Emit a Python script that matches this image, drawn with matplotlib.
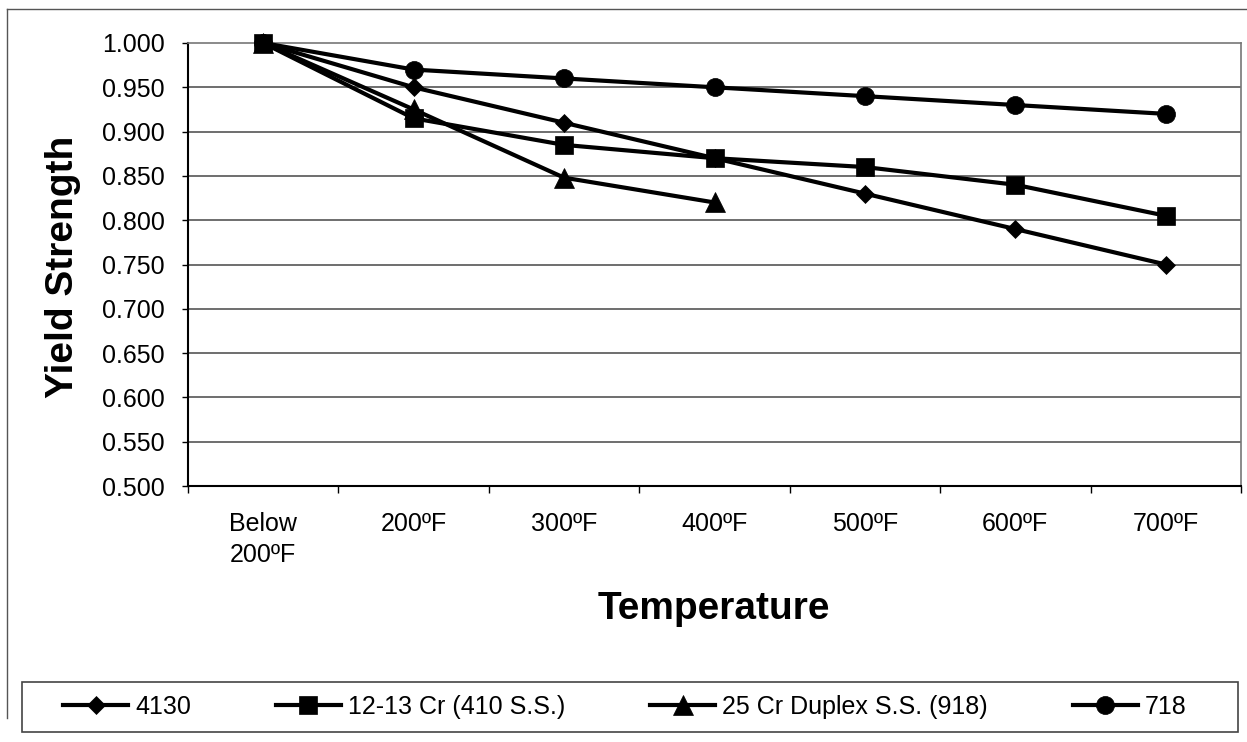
import matplotlib
matplotlib.use("Agg")
import matplotlib.pyplot as plt
from matplotlib.lines import Line2D
from matplotlib.patches import Rectangle
import numpy as np

plt.rcParams['font.family'] = ['Liberation Sans', 'DejaVu Sans']

categories = ["Below\n200ºF", "200ºF", "300ºF", "400ºF", "500ºF", "600ºF", "700ºF"]
s_4130 = [1.000, 0.950, 0.910, 0.870, 0.830, 0.790, 0.750]
s_1213cr = [1.000, 0.915, 0.885, 0.870, 0.860, 0.840, 0.805]
s_25cr = [1.000, 0.925, 0.848, 0.820]
s_718 = [1.000, 0.970, 0.960, 0.950, 0.940, 0.930, 0.920]
series_names = ["4130", "12-13 Cr (410 S.S.)", "25 Cr Duplex S.S. (918)", "718"]
y_ticks = [0.50, 0.55, 0.60, 0.65, 0.70, 0.75, 0.80, 0.85, 0.90, 0.95, 1.00]

W, H = 1247, 742
fig = plt.figure(figsize=(W / 100, H / 100), dpi=100)
fig.patch.set_facecolor('white')

def fx(px):
    return px / W

def fy(py):
    return 1 - py / H

ax_l, ax_r, ax_t, ax_b = 188, 1241, 43, 486
ax = fig.add_axes([fx(ax_l), fy(ax_b), fx(ax_r - ax_l), (ax_b - ax_t) / H])

x_all = np.arange(len(categories))
styles = [
    dict(marker='D', ms=9.5, zorder=3),
    dict(marker='s', ms=13.5, zorder=5),
    dict(marker='^', ms=14, zorder=3),
    dict(marker='o', ms=13, zorder=4),
]
data = [s_4130, s_1213cr, s_25cr, s_718]
handles = []
for name, vals, st in zip(series_names, data, styles):
    xs = x_all[:len(vals)]
    ln, = ax.plot(xs, vals, color='black', lw=3, marker=st['marker'], ms=st['ms'],
                  mec='black', mfc='black', mew=0.5, zorder=st['zorder'], label=name,
                  clip_on=False)
    handles.append(ln)

ax.set_xlim(-0.5, len(categories) - 0.5)
ax.set_ylim(0.5, 1.0)
ax.set_yticks(y_ticks)
ax.set_yticklabels([f"{v:.3f}" for v in y_ticks])
ax.tick_params(axis='y', direction='out', length=4, width=1, pad=13, labelsize=18, color='black')

# category boundaries as major ticks, labels on minor ticks at centers
ax.set_xticks(np.arange(-0.5, len(categories), 1.0))
ax.set_xticklabels([])
ax.set_xticks(x_all, minor=True)
ax.set_xticklabels(categories, minor=True, fontsize=18, linespacing=1.35,
                   multialignment='left')
ax.tick_params(axis='x', which='major', direction='out', length=5, width=1, color='black')
ax.tick_params(axis='x', which='minor', length=0, pad=19)

ax.grid(False)
for v in y_ticks[1:-1]:
    ax.axhline(v, color='#555555', lw=1.2, zorder=1)

ax.spines['left'].set_color('black')
ax.spines['left'].set_linewidth(1.5)
ax.spines['bottom'].set_color('black')
ax.spines['bottom'].set_linewidth(1.5)
ax.spines['top'].set_color('#777777')
ax.spines['top'].set_linewidth(1.2)
ax.spines['right'].set_color('#777777')
ax.spines['right'].set_linewidth(1.2)

fig.text(fx(63), fy(267), "Yield Strength", rotation=90, ha='center', va='center',
         fontsize=28, fontweight='bold')
fig.text(fx(714), fy(619), "Temperature", ha='center', va='baseline',
         fontsize=28, fontweight='bold')

# legend
fig.patches.append(Rectangle((fx(22), fy(732)), fx(1238 - 22), (732 - 682) / H,
                             transform=fig.transFigure, fill=False, ec='#444444', lw=1.2))
leg = fig.legend(handles=handles, labels=series_names, loc='center left',
                 bbox_to_anchor=(fx(63), fy(707)), ncol=4, frameon=False,
                 fontsize=18, handlelength=2.6, handletextpad=0.28,
                 columnspacing=3.4, borderpad=0, borderaxespad=0)

# outer border (left and top)
fig.add_artist(Line2D([fx(7), fx(7)], [fy(9), fy(718)], transform=fig.transFigure,
                      color='#555555', lw=1))
fig.add_artist(Line2D([fx(7), fx(1247)], [fy(9), fy(9)], transform=fig.transFigure,
                      color='#555555', lw=1))

fig.savefig("out.png", dpi=100, facecolor='white')
